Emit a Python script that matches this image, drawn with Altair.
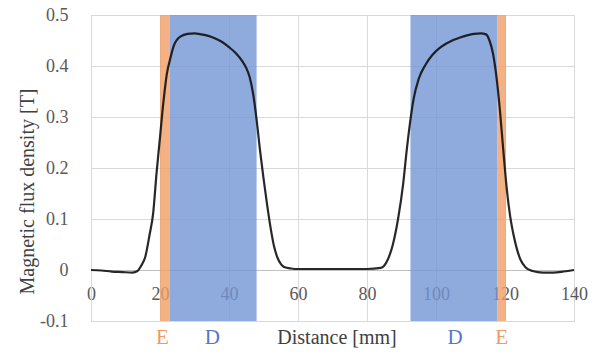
import altair as alt
import pandas as pd

# ---- data ----
distance = [0, 3, 6, 9, 12, 13.5, 14.5, 15.7, 17, 18, 19, 20, 21, 22, 23, 24, 25, 26, 28, 30,
            32, 34, 36, 38, 40, 42, 44, 45, 46, 47, 48, 49, 50, 51, 52, 53, 54, 55, 56, 58,
            60, 70, 80, 84, 86, 87.5, 89, 90.5, 91.5, 92.5, 93.5, 95, 97, 99, 101, 103, 105,
            107, 109, 111, 113, 114.5, 115.5, 116.5, 117.5, 118.5, 119.5, 120.5, 121.5, 122.5,
            123.5, 124.5, 126, 128, 131, 134, 137, 140]
flux = [0.0, -0.001, -0.003, -0.004, -0.005, -0.002, 0.008, 0.025, 0.07, 0.11, 0.19, 0.26,
        0.33, 0.385, 0.415, 0.44, 0.452, 0.458, 0.463, 0.464, 0.462, 0.459, 0.454, 0.447,
        0.437, 0.425, 0.408, 0.396, 0.378, 0.345, 0.295, 0.234, 0.18, 0.13, 0.085, 0.048,
        0.025, 0.012, 0.006, 0.003, 0.002, 0.002, 0.002, 0.004, 0.02, 0.05, 0.10, 0.17,
        0.234, 0.29, 0.335, 0.375, 0.403, 0.422, 0.435, 0.444, 0.451, 0.456, 0.46, 0.463,
        0.464, 0.462, 0.45, 0.425, 0.38, 0.315, 0.235, 0.16, 0.105, 0.068, 0.04, 0.02,
        0.005, -0.002, -0.005, -0.005, -0.003, 0.0]

band_names = ["E", "D", "D", "E"]
band_start = [20.0, 22.9, 92.6, 117.8]
band_end = [22.9, 48.0, 117.8, 120.3]

label_text = ["E", "D", "D", "E"]
label_pos = [20.7, 35.2, 105.5, 119.0]

x_ticks = [0, 20, 40, 60, 80, 100, 120, 140]
y_ticks = [-0.1, 0, 0.1, 0.2, 0.3, 0.4, 0.5]

W, H = 483, 306
FONT = "Liberation Serif"

curve = pd.DataFrame({"distance": distance, "flux": flux})
bands = pd.DataFrame({"name": band_names, "start": band_start, "end": band_end})
labels = pd.DataFrame({"label": label_text, "pos": label_pos})

xscale = alt.Scale(domain=[0, 140], nice=False, zero=False)
yscale = alt.Scale(domain=[-0.1, 0.5], nice=False, zero=False)
color_scale = alt.Scale(domain=["E", "D"], range=["#F19E64", "#7395D3"])
text_scale = alt.Scale(domain=["E", "D"], range=["#EE9A62", "#5677C4"])

band_layer = alt.Chart(bands).mark_rect(opacity=0.8).encode(
    x=alt.X("start:Q", scale=xscale,
            axis=alt.Axis(values=x_ticks, title=None, grid=True, gridColor="#d9d9d9",
                          ticks=False, offset=-51, domainColor="#bfbfbf",
                          labelFont=FONT, labelFontSize=18, labelColor="#595959",
                          labelPadding=15, labelFlush=False, labelOverlap=False)),
    x2="end:Q",
    y=alt.value(0),
    y2=alt.value(H),
    color=alt.Color("name:N", scale=color_scale, legend=None),
)

line_layer = alt.Chart(curve).mark_line(color="#111111", strokeWidth=2.2, opacity=0.9,
                                        interpolate="monotone").encode(
    x=alt.X("distance:Q", scale=xscale),
    y=alt.Y("flux:Q", scale=yscale,
            axis=alt.Axis(values=y_ticks, title="Magnetic flux density [T]",
                          grid=True, gridColor="#d9d9d9", ticks=False,
                          domainColor="#d9d9d9", labelPadding=23,
                          labelFont=FONT, labelFontSize=18, labelColor="#595959",
                          labelExpr="replace(datum.label, '\u2212', '-')",
                          titleFont=FONT, titleFontSize=20, titleFontWeight="normal",
                          titleColor="#404040", titleAngle=270, titleAlign="center",
                          titleBaseline="middle", titleX=-64, titleY=176,
                          format="~g")),
)

label_layer = alt.Chart(labels).mark_text(font=FONT, fontSize=21, baseline="bottom").encode(
    x=alt.X("pos:Q", scale=xscale),
    y=alt.value(H + 27),
    text="label:N",
    color=alt.Color("label:N", scale=text_scale, legend=None),
)

title_layer = alt.Chart(pd.DataFrame({"t": ["Distance [mm]"]})).mark_text(
    font=FONT, fontSize=20, baseline="bottom", color="#404040").encode(
    x=alt.value(246),
    y=alt.value(H + 27),
    text="t:N",
)

chart = alt.layer(band_layer, line_layer, label_layer, title_layer).resolve_scale(
    color="independent"
).properties(
    width=W, height=H,
    autosize=alt.AutoSizeParams(type="none"),
    padding={"left": 83, "top": 7, "right": 18, "bottom": 27},
).configure_view(stroke=None).configure(background="white")

chart.save("out.html", embed_options={"renderer": "svg", "actions": False})
